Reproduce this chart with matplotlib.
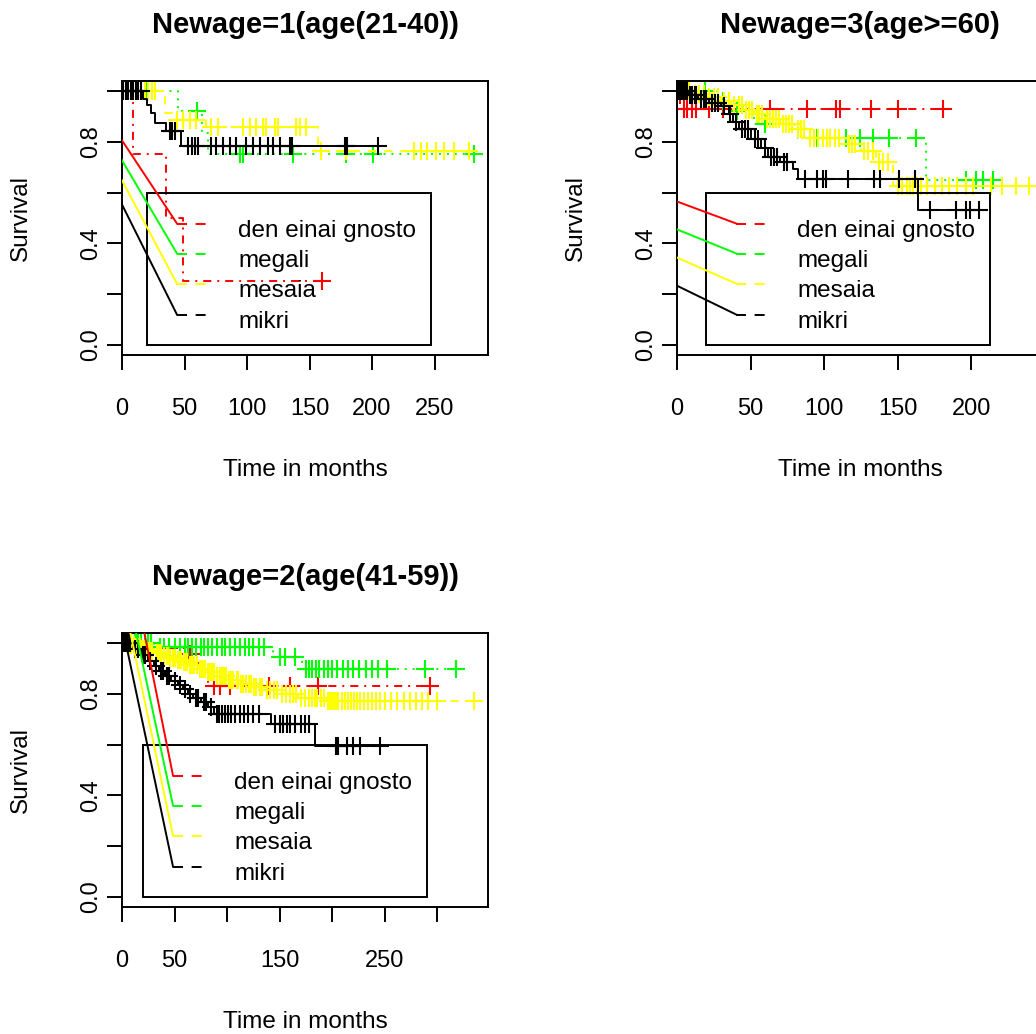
import numpy as np
import matplotlib
matplotlib.use("Agg")
import matplotlib.pyplot as plt
from matplotlib.patches import Rectangle

plt.rcParams['font.family'] = ['Liberation Sans', 'DejaVu Sans']
plt.rcParams['lines.scale_dashes'] = False

# groups (same order as R legend)
groups = ["den einai gnosto", "megali", "mesaia", "mikri"]
colors = ["#FF0000", "#00FF00", "#FFFF00", "#000000"]
line_styles = [(0, (1.4, 4.3, 5.8, 4.3)), (0, (1.4, 4.3)), (0, (5.8, 5.8)), "-"]

titles = ["Newage=1(age(21-40))", "Newage=3(age>=60)", "Newage=2(age(41-59))"]

# ---- panel 1 : Newage=1 ----
r1_t = [0, 9, 35, 49]
r1_s = [1.0, 0.752, 0.50, 0.25]
r1_c = [160]
g1_t = [0, 45, 64, 69]
g1_s = [1.0, 0.921, 0.835, 0.752]
g1_c = [20, 60, 94, 96.5, 136.6, 179, 200.5, 281.5]
y1_t = [0, 34, 40, 67.5, 157]
y1_s = [1.0, 0.914, 0.888, 0.857, 0.766]
y1_c = [18.4, 21, 23.7, 26.3, 44, 49, 54, 59.5, 71.5, 76.8, 96.8, 102, 107.4,
        112.7, 115.4, 122, 124.7, 139.3, 142, 147.3, 159, 179, 233.6, 239,
        244.3, 251, 257.6, 265.6, 277.5]
b1_t = [0, 17, 20, 23, 26, 35, 47]
b1_s = [1.0, 0.97, 0.945, 0.915, 0.875, 0.842, 0.783]
b1_c = [1, 3, 5, 7, 9, 11, 13, 15, 38, 40, 42, 53, 55.6, 58, 61, 71.5, 75.5,
        80.8, 86, 91.4, 99.4, 104.7, 110, 116.7, 120.7, 126, 134, 136, 178,
        180, 204.5]

# ---- panel 2 : Newage=3 ----
r2_t = [0, 2]
r2_s = [1.0, 0.929]
r2_c = [5, 7, 10, 13, 22, 31, 63, 88, 108, 111, 132, 150, 180.5]
g2_t = [0, 28, 40, 52, 82, 169]
g2_s = [1.0, 0.96, 0.92, 0.87, 0.815, 0.648]
g2_c = [3, 19, 31, 41, 60, 95, 115, 124, 133, 144, 162.5, 196.4, 203.2,
        207.7, 214.4]
y2_t = [0, 10, 20, 30, 37, 45, 52, 60, 70, 80, 88, 115, 125, 135, 147]
y2_s = [1.0, 0.99, 0.975, 0.96, 0.945, 0.925, 0.91, 0.89, 0.87, 0.85, 0.815,
        0.79, 0.765, 0.72, 0.625]
y2_c = [2, 5, 8, 12, 15, 18, 22, 25, 28, 32, 35, 39, 42, 44, 47, 49, 51, 54,
        56, 58, 61, 63, 65, 67, 69, 72, 74, 76, 78, 82, 84, 86, 90, 93, 96,
        99, 102, 104, 107, 110, 117, 119, 121, 127, 130, 133, 137, 140, 143,
        150, 153, 156, 158, 160, 163, 166, 170, 175, 180, 185, 190, 196, 201,
        213, 221, 230, 239]
b2_t = [0, 8, 14, 22, 30, 35, 38, 42, 50, 57, 62, 70, 79, 82, 164]
b2_s = [1.0, 0.985, 0.97, 0.955, 0.94, 0.91, 0.88, 0.85, 0.81, 0.775, 0.74,
        0.72, 0.695, 0.655, 0.53]
b2_c = [1, 2, 3, 4, 5, 6, 7, 9, 10, 12, 13, 16, 18, 20, 24, 26, 28, 32, 36,
        40, 44, 46, 48, 53, 55, 60, 64, 66, 68, 73, 75, 87, 95, 99, 101, 116,
        134, 138, 151, 161.5, 171.6, 189.8, 196.6, 198.8, 205]

# ---- panel 3 : Newage=2 ----
r3_t = [0, 40, 60, 68, 82]
r3_s = [1.0, 0.98, 0.957, 0.92, 0.832]
r3_c = [45, 64, 66, 88, 93, 103, 140, 160, 187, 293]
g3_t = [0, 30, 144, 171]
g3_s = [1.0, 0.985, 0.944, 0.898]
g3_c = [2, 5, 8, 12, 15, 18, 22, 25, 28, 36, 40, 45, 50, 55, 60, 63, 67, 70,
        75, 78, 82, 86, 90, 95, 98, 103, 108, 112, 117, 121, 125, 130, 135,
        150, 155, 165, 175, 178, 181, 185, 188, 192, 196, 200, 205, 210, 215,
        220, 226, 232, 238, 244, 252, 288, 318]
y3_t = [0, 6, 12, 18, 24, 31, 38, 45, 51, 57, 64, 73, 80, 89, 100, 112, 124,
        136, 150, 168, 195]
y3_s = [1.0, 0.992, 0.985, 0.977, 0.97, 0.96, 0.95, 0.94, 0.932, 0.925, 0.912,
        0.9, 0.885, 0.87, 0.855, 0.84, 0.828, 0.815, 0.8, 0.785, 0.773]
y3_c = [1, 2, 3, 4, 5, 7, 9, 11, 13, 14, 16, 17, 19, 21, 23, 26, 28, 29, 33,
        35, 37, 40, 43, 44, 46, 49, 50, 53, 55, 56, 59, 61, 62, 65, 67, 69, 71,
        74, 76, 77, 79, 82, 84, 86, 88, 90, 93, 95, 97, 99, 102, 104, 106, 109,
        110, 113, 115, 118, 121, 123, 126, 128, 131, 133, 138, 141, 145, 148,
        152, 156, 160, 163, 166, 170, 174, 178, 181, 184, 186, 189, 192, 196,
        198, 200, 202, 204, 206, 209, 212, 215, 218, 221, 224, 227, 230, 234,
        238, 242, 246, 250, 256, 262, 268, 274, 280, 286, 291, 300, 335]
b3_t = [0, 10, 18, 25, 30, 35, 41, 47, 53, 58, 63, 68, 75, 82, 88, 142, 184]
b3_s = [1.0, 0.975, 0.955, 0.93, 0.91, 0.89, 0.87, 0.85, 0.835, 0.82, 0.8,
        0.785, 0.77, 0.75, 0.72, 0.681, 0.596]
b3_c = [1, 2, 3, 4, 5, 6, 8, 12, 15, 20, 22, 27, 32, 37, 39, 43, 45, 50, 55,
        60, 65, 70, 72, 78, 80, 85, 90, 92, 95, 98, 101, 104, 108, 112, 116,
        120, 125, 130, 146, 150, 153, 157, 160, 165, 170, 174, 178, 204, 206,
        214, 220, 227, 246]

# legend entries (R legend at x=20, y=0.6) and the stray lines from the y axis
leg_x, leg_top = 20, 0.6
leg_y = [0.478, 0.36, 0.241, 0.119]
diag_start1 = [0.806, 0.727, 0.648, 0.553]
diag_start2 = [0.565, 0.455, 0.344, 0.233]
diag_start3 = [1.478, 1.30, 1.198, 1.072]

xticks1 = [0, 50, 100, 150, 200, 250]
xlabels1 = ["0", "50", "100", "150", "200", "250"]
xticks2 = [0, 50, 100, 150, 200]
xlabels2 = ["0", "50", "100", "150", "200"]
xticks3 = [0, 50, 100, 150, 200, 250, 300]
xlabels3 = ["0", "50", "", "150", "", "250", ""]
yticks = [0, 0.2, 0.4, 0.6, 0.8, 1.0]
ylabels = ["0.0", "", "0.4", "", "0.8", ""]

fig = plt.figure(figsize=(10.36, 10.34), dpi=100)
W, H = 1036, 1034


def km(ax, t, s, c, color, ls):
    t = np.asarray(t, float)
    s = np.asarray(s, float)
    c = np.asarray(c, float)
    end = c.max()
    ax.step(np.append(t, end), np.append(s, s[-1]), where='post',
            color=color, lw=1.4, linestyle=ls)
    idx = np.searchsorted(t, c, side='right') - 1
    ax.plot(c, s[idx], linestyle='none', marker='+', color=color,
            ms=12.5, mew=1.5)


def legend(ax, starts):
    tr = ax.transData
    inv = tr.inverted()
    x0_px, y0_px = tr.transform((leg_x, 0))
    x_right = inv.transform((x0_px + 284, y0_px))[0]
    ax.add_patch(Rectangle((leg_x, 0), x_right - leg_x, leg_top, fill=False,
                           lw=1.4, ec='black', zorder=3))
    for lab, col, yy, y0 in zip(groups, colors, leg_y, starts):
        ypx = tr.transform((leg_x, yy))[1]
        xh1 = inv.transform((x0_px + 30, ypx))[0]
        xh2 = inv.transform((x0_px + 61, ypx))[0]
        xt = inv.transform((x0_px + 91, ypx))[0]
        ytext = inv.transform((x0_px, ypx - 13.3))[1]
        ax.plot([0, xh1], [y0, yy], color=col, lw=1.4, zorder=3)
        ax.plot([xh1, xh2], [yy, yy], color=col, lw=1.4,
                dashes=(7.2, 6.2), zorder=3)
        ax.text(xt, ytext, lab, fontsize=17.5, va='baseline', ha='left',
                zorder=4)


def panel(rect, title, curves, xticks, xlabels, starts):
    ax = fig.add_axes(rect)
    tmax = max(max(c) for _, _, c in curves)
    ax.set_xlim(0, tmax * 1.04)
    ax.set_ylim(-0.04, 1.04)
    for (t, s, c), col, ls in zip(curves, colors, line_styles):
        km(ax, t, s, c, col, ls)
    ax.set_xticks(xticks)
    ax.set_xticklabels(xlabels)
    ax.set_yticks(yticks)
    ax.set_yticklabels(ylabels, rotation=90, va='center')
    ax.tick_params(axis='both', direction='out', length=11, width=1.4,
                   labelsize=17)
    ax.tick_params(axis='x', pad=20)
    ax.tick_params(axis='y', pad=3.5)
    for sp in ax.spines.values():
        sp.set_linewidth(1.4)
    ax.set_title(title, fontsize=21, fontweight='bold', pad=34.6)
    ax.annotate("Time in months", xy=(0.5, 0), xycoords='axes fraction',
                xytext=(0, -87), textcoords='offset points', ha='center',
                va='baseline', fontsize=17.5, annotation_clip=False)
    ax.annotate("Survival", xy=(0, 0.5), xycoords='axes fraction',
                xytext=(-73, 0), textcoords='offset points', ha='center',
                va='center', rotation=90, fontsize=17.5, annotation_clip=False)
    legend(ax, starts)
    return ax


aw, ah = 366 / W, 274 / H
panel([122 / W, (H - 355) / H, aw, ah], titles[0],
      [(r1_t, r1_s, r1_c), (g1_t, g1_s, g1_c), (y1_t, y1_s, y1_c),
       (b1_t, b1_s, b1_c)], xticks1, xlabels1, diag_start1)
panel([677 / W, (H - 355) / H, aw, ah], titles[1],
      [(r2_t, r2_s, r2_c), (g2_t, g2_s, g2_c), (y2_t, y2_s, y2_c),
       (b2_t, b2_s, b2_c)], xticks2, xlabels2, diag_start2)
panel([122 / W, (H - 907) / H, aw, ah], titles[2],
      [(r3_t, r3_s, r3_c), (g3_t, g3_s, g3_c), (y3_t, y3_s, y3_c),
       (b3_t, b3_s, b3_c)], xticks3, xlabels3, diag_start3)

fig.savefig("out.png", dpi=100)
